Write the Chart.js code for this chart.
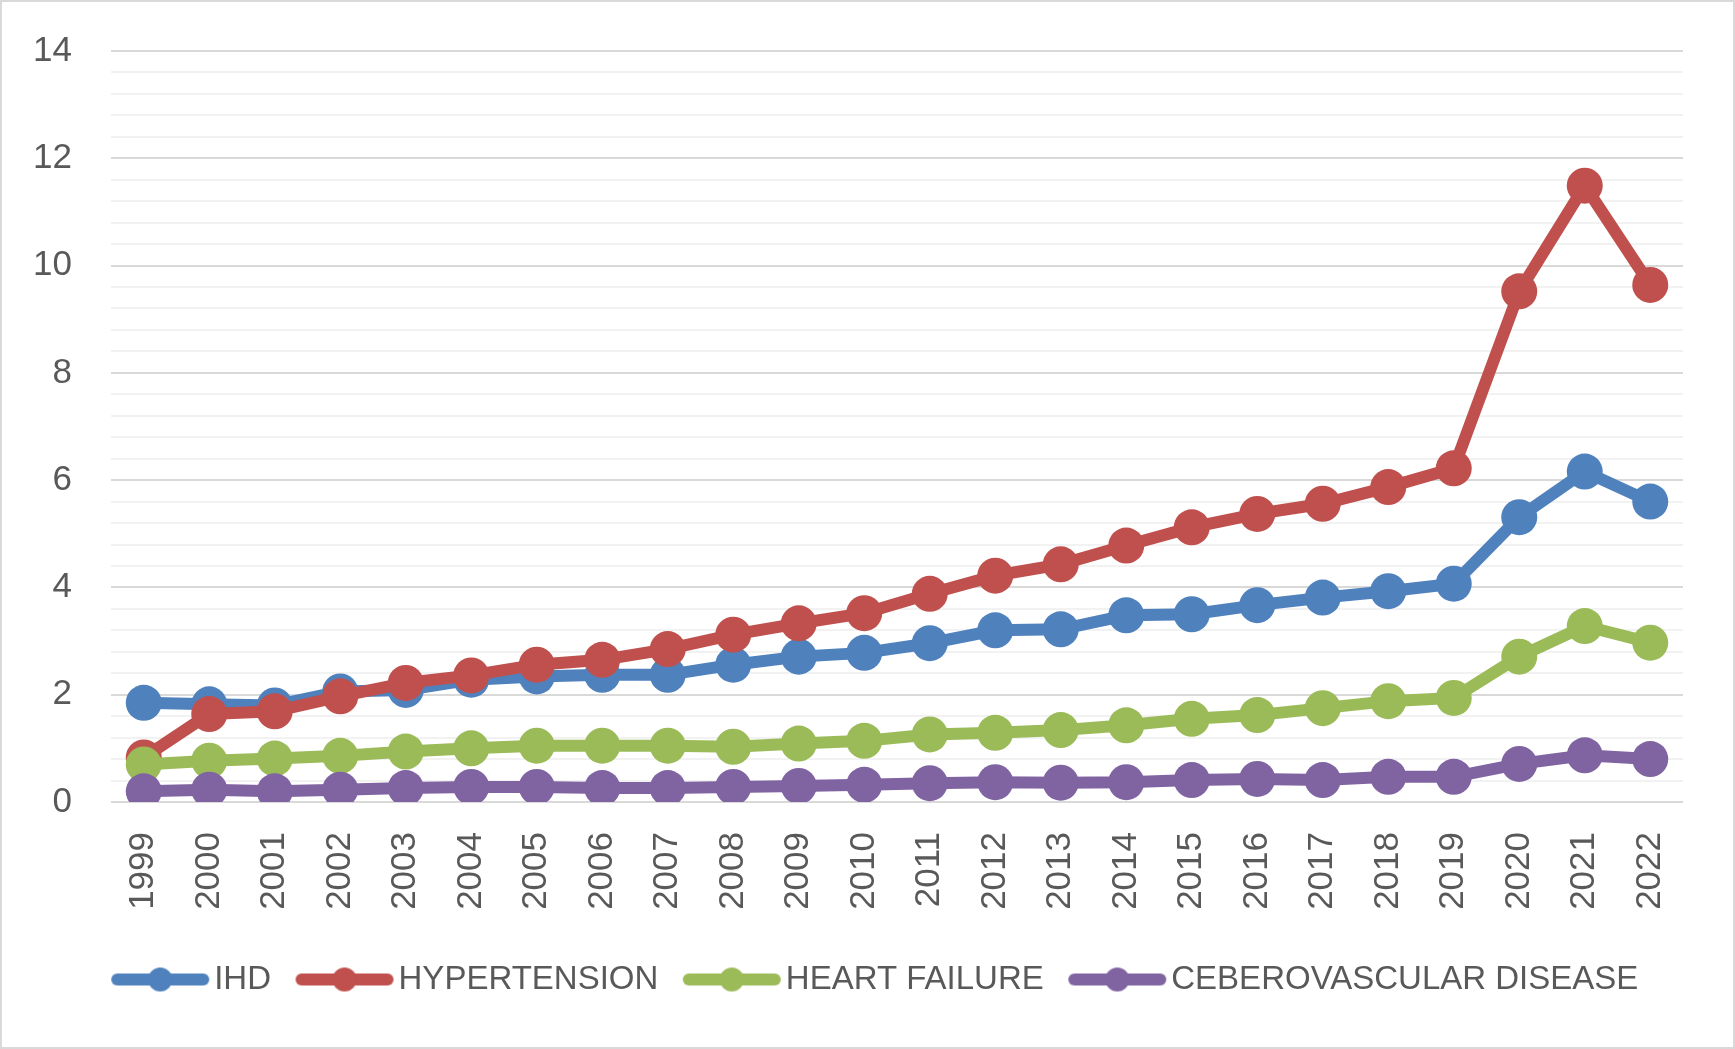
<!DOCTYPE html>
<html>
<head>
<meta charset="utf-8">
<script src="https://cdn.jsdelivr.net/npm/chart.js@4.4.1/dist/chart.umd.min.js"></script>
<style>
  body { margin: 0; background: #fff; }
  canvas { display: block; }
</style>
</head>
<body>
<canvas id="chart" width="1735" height="1049"></canvas>
<script>
const years = ['1999', '2000', '2001', '2002', '2003', '2004', '2005', '2006', '2007', '2008', '2009', '2010',
    '2011', '2012', '2013', '2014', '2015', '2016', '2017', '2018', '2019', '2020', '2021', '2022'];
const ihd = [1.85, 1.82, 1.80, 2.06, 2.09, 2.28, 2.34, 2.37, 2.37, 2.56, 2.71, 2.78,
    2.96, 3.20, 3.22, 3.48, 3.50, 3.67, 3.81, 3.93, 4.07, 5.31, 6.16, 5.60];
const hypertension = [0.83, 1.64, 1.69, 1.97, 2.22, 2.36, 2.56, 2.65, 2.85, 3.12, 3.33, 3.52,
    3.88, 4.22, 4.43, 4.78, 5.12, 5.37, 5.56, 5.87, 6.22, 9.52, 11.49, 9.64];
const heartFailure = [0.70, 0.77, 0.81, 0.86, 0.94, 1.00, 1.05, 1.05, 1.05, 1.03, 1.09, 1.14,
    1.26, 1.29, 1.34, 1.43, 1.55, 1.62, 1.75, 1.88, 1.94, 2.71, 3.28, 2.97];
const cerebrovascular = [0.20, 0.23, 0.20, 0.23, 0.26, 0.28, 0.28, 0.26, 0.26, 0.28, 0.30, 0.32,
    0.35, 0.37, 0.36, 0.37, 0.41, 0.43, 0.41, 0.47, 0.47, 0.71, 0.87, 0.80];
const yTicks = [0, 2, 4, 6, 8, 10, 12, 14];

const textColor = '#595959';

// legend icon: thick line with a dot in the middle
function legendIcon(color) {
    const c = document.createElement('canvas');
    c.width = 100;
    c.height = 28;
    const g = c.getContext('2d');
    g.strokeStyle = color;
    g.lineWidth = 12;
    g.lineCap = 'round';
    g.beginPath();
    g.moveTo(7, 14);
    g.lineTo(93, 14);
    g.stroke();
    g.fillStyle = color;
    g.beginPath();
    g.arc(50, 14, 12, 0, Math.PI * 2);
    g.fill();
    return c;
}

function series(label, data, color, order) {
    return {
        label: label,
        data: data,
        borderColor: color,
        backgroundColor: color,
        borderWidth: 12,
        pointRadius: 18,
        pointHoverRadius: 18,
        pointBorderWidth: 0,
        pointBackgroundColor: color,
        tension: 0,
        order: order
    };
}

const frame = {
    id: 'frame',
    beforeDraw(chart) {
        const ctx = chart.ctx;
        ctx.save();
        ctx.fillStyle = '#ffffff';
        ctx.fillRect(0, 0, chart.width, chart.height);
        ctx.strokeStyle = '#d9d9d9';
        ctx.lineWidth = 2;
        ctx.strokeRect(1, 1, chart.width - 2, chart.height - 2);
        ctx.restore();
    }
};

// nudge the legend row a bit to the right, like the original
const legendShift = {
    id: 'legendShift',
    afterLayout(chart) {
        chart.legend.left += 39;
        chart.legend.right += 39;
    }
};

const isMajor = v => yTicks.some(t => Math.abs(t - v) < 1e-6);

new Chart(document.getElementById('chart').getContext('2d'), {
    type: 'line',
    data: {
        labels: years,
        datasets: [
            series('IHD', ihd, '#4f81bd', 4),
            series('HYPERTENSION', hypertension, '#c0504d', 3),
            series('HEART FAILURE', heartFailure, '#9bbb59', 2),
            series('CEBEROVASCULAR DISEASE', cerebrovascular, '#8064a2', 1)
        ]
    },
    options: {
        responsive: false,
        devicePixelRatio: 1,
        animation: false,
        layout: {
            padding: { left: 0, right: 52, top: 51, bottom: 43 }
        },
        scales: {
            x: {
                offset: true,
                grid: { display: false },
                border: { display: false },
                ticks: {
                    color: textColor,
                    font: { family: 'Liberation Sans', size: 35 },
                    minRotation: 90,
                    maxRotation: 90,
                    autoSkip: false,
                    padding: 22
                },
                afterFit(scale) { scale.height = 125; }
            },
            y: {
                min: 0,
                max: 14,
                border: { display: false },
                grid: {
                    drawTicks: true,
                    tickLength: 39,
                    tickColor: 'rgba(0,0,0,0)',
                    lineWidth: 2,
                    color: ctx => isMajor(ctx.tick.value) ? '#d9d9d9' : '#f2f2f2'
                },
                ticks: {
                    stepSize: 0.4,
                    autoSkip: false,
                    color: textColor,
                    font: { family: 'Liberation Sans', size: 35 },
                    padding: 0,
                    callback: v => isMajor(v) ? String(Math.round(v)) : ''
                },
                afterFit(scale) { scale.width = 111; }
            }
        },
        plugins: {
            legend: {
                position: 'bottom',
                labels: {
                    usePointStyle: true,
                    pointStyleWidth: 75,
                    boxHeight: 28,
                    padding: 36,
                    color: textColor,
                    font: { family: 'Liberation Sans', size: 33 },
                    sort: (a, b) => a.datasetIndex - b.datasetIndex,
                    generateLabels(chart) {
                        const items = Chart.defaults.plugins.legend.labels.generateLabels(chart);
                        items.forEach(it => {
                            it.pointStyle = legendIcon(chart.data.datasets[it.datasetIndex].borderColor);
                        });
                        return items;
                    }
                }
            },
            tooltip: { enabled: false }
        }
    },
    plugins: [frame, legendShift]
});
</script>
</body>
</html>
